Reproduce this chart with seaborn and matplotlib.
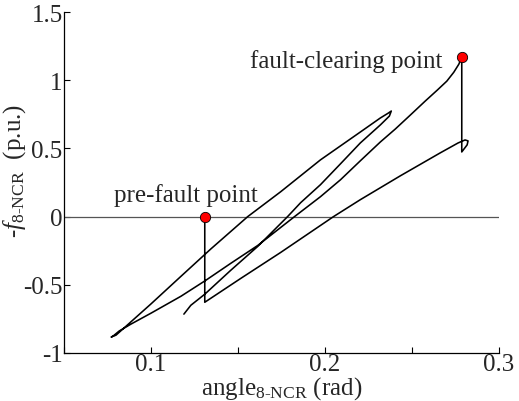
import matplotlib
matplotlib.use("Agg")
import matplotlib.pyplot as plt
from matplotlib.ticker import MultipleLocator, FuncFormatter
import seaborn as sns
import pandas as pd

# ---- data ----
# pre-fault point and jump at fault inception
prefault_angle = [0.1309]
prefault_f = [0.0]

# fault-on trajectory
fault_angle = [0.1309, 0.1516, 0.1745, 0.2049, 0.2203, 0.2433, 0.2662, 0.2765,
               0.2805, 0.2822, 0.2817, 0.2786]
fault_f = [-0.628, -0.453, -0.263, 0.000, 0.124, 0.299, 0.467, 0.540,
           0.562, 0.555, 0.526, 0.474]

# post-fault (after clearing) trajectory
post_angle = [0.2786, 0.2769, 0.2740, 0.2700, 0.2645, 0.2576, 0.2490, 0.2404,
              0.2318, 0.2203, 0.2089, 0.1974, 0.1825, 0.1716, 0.1613, 0.1458,
              0.1315, 0.1172, 0.1000, 0.0885, 0.0817, 0.0782, 0.0771, 0.0799,
              0.1000, 0.1172, 0.1344, 0.1556, 0.1745, 0.1974, 0.2203,
              0.2318, 0.2364, 0.2381, 0.2370,
              0.2318, 0.2203, 0.2089, 0.1974, 0.1860, 0.1785, 0.1613, 0.1458,
              0.1309, 0.1229, 0.1189]
post_f = [1.168, 1.117, 1.058, 0.993, 0.927, 0.847, 0.744, 0.642,
          0.547, 0.409, 0.270, 0.146, 0.000, -0.109, -0.212, -0.343,
          -0.467, -0.584, -0.708, -0.788, -0.839, -0.876, -0.883, -0.869,
          -0.640, -0.438, -0.237, 0.000, 0.182, 0.416, 0.620,
          0.723, 0.759, 0.774, 0.737,
          0.672, 0.540, 0.387, 0.234, 0.102, 0.000, -0.219, -0.394,
          -0.569, -0.650, -0.715]

marker_angle = [0.1309, 0.2786]
marker_f = [0.0, 1.168]
marker_labels = ["pre-fault point", "fault-clearing point"]

x_ticks = [0.1, 0.2, 0.3]
y_ticks = [-1, -0.5, 0, 0.5, 1, 1.5]

# ---- styling ----
sns.set_style("ticks")
plt.rcParams["font.family"] = ["Liberation Serif", "DejaVu Serif"]
plt.rcParams["mathtext.fontset"] = "custom"
plt.rcParams["mathtext.rm"] = "Liberation Serif"
plt.rcParams["mathtext.it"] = "Liberation Serif:italic"
plt.rcParams["axes.unicode_minus"] = False

FS = 18

traj = pd.DataFrame({
    "angle": prefault_angle + fault_angle + post_angle,
    "f": prefault_f + fault_f + post_f,
})
marks = pd.DataFrame({"angle": marker_angle, "f": marker_f})

fig = plt.figure(figsize=(5.19, 4.02), dpi=100)
ax = fig.add_axes([64 / 519, 1 - 354 / 402, (499 - 64) / 519, (354 - 13) / 402])

ax.axhline(0, color="#555555", lw=0.9, zorder=1)
sns.lineplot(data=traj, x="angle", y="f", sort=False, estimator=None,
             color="black", lw=1.15, ax=ax, zorder=2)
sns.scatterplot(data=marks, x="angle", y="f", color="red", edgecolor="black",
                linewidth=0.6, s=55, ax=ax, zorder=3)

ax.text(0.1200, 0.117, marker_labels[0], ha="center", va="baseline", fontsize=FS)
ax.text(0.2673, 1.095, marker_labels[1], ha="right", va="baseline", fontsize=FS)

ax.set_xlim(0.05, 0.3)
ax.set_ylim(-1, 1.5)
ax.set_xticks(x_ticks)
ax.xaxis.set_minor_locator(MultipleLocator(0.05))
ax.set_yticks(y_ticks)
fmt = FuncFormatter(lambda v, p: "%g" % round(v, 3))
ax.xaxis.set_major_formatter(fmt)
ax.yaxis.set_major_formatter(fmt)
ax.tick_params(axis="both", which="both", direction="in", length=4, width=0.8,
               labelsize=FS, color="black")
ax.tick_params(axis="x", pad=0)
ax.tick_params(axis="y", pad=1)

sns.despine(ax=ax)
for s in ["left", "bottom"]:
    ax.spines[s].set_color("black")
    ax.spines[s].set_linewidth(0.9)

ax.set_xlabel(r"angle$_{\mathrm{8\text{-}NCR}}$ (rad)", fontsize=FS)
ax.xaxis.label.set_va("baseline")
ax.xaxis.set_label_coords(0.5, (354 - 395) / 341)
ax.set_ylabel(r"-$\mathit{f}_{\mathrm{8\text{-}NCR}}$  (p.u.)", fontsize=FS)
ax.yaxis.label.set_va("center")
ax.yaxis.set_label_coords((15 - 64) / 435, (354 - 171) / 341)

fig.savefig("out.png", dpi=100)
